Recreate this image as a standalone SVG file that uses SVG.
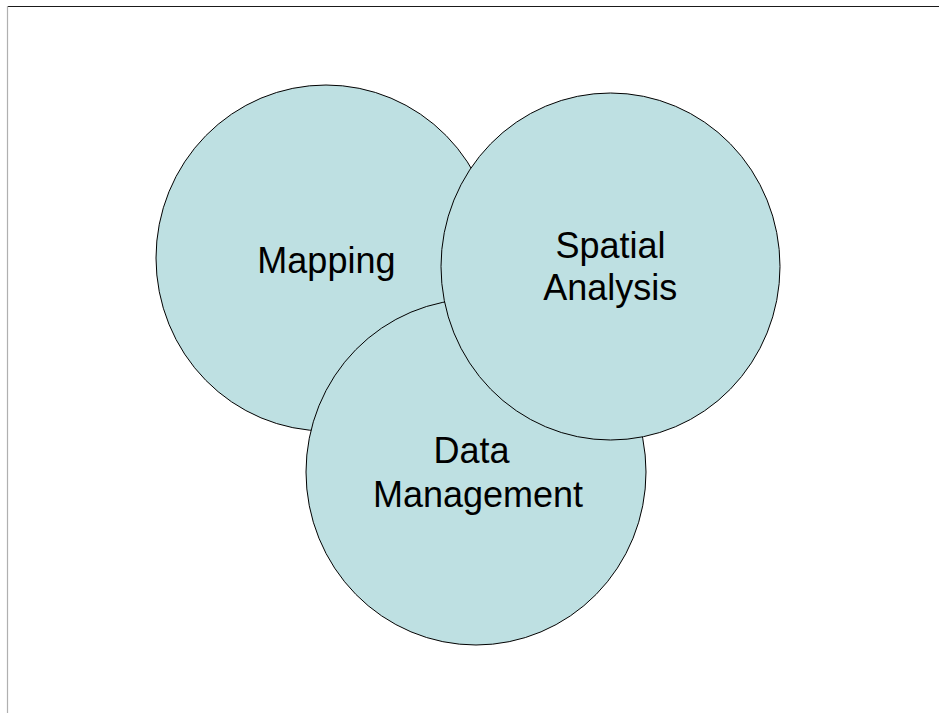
<svg xmlns="http://www.w3.org/2000/svg" width="939" height="713" viewBox="0 0 939 713">
<style>
.c{fill:#BEE0E2;stroke:#000;stroke-width:1}
.t{font-family:"Liberation Sans",Arial,sans-serif;font-size:36px;fill:#000;text-anchor:middle}
</style>
<rect x="0" y="0" width="939" height="713" fill="#fff"/>
<g id="frame">
<line x1="7" y1="6.5" x2="939" y2="6.5" stroke="#1a1a1a" stroke-width="1.2"/>
<line x1="7.5" y1="6" x2="7.5" y2="713" stroke="#b0b0b0" stroke-width="1.2"/>
</g>
<g id="connectors"></g>
<g id="mapping">
<ellipse class="c" cx="326" cy="258" rx="170" ry="173"/>
<text class="t" x="326.4" y="273.3">Mapping</text>
</g>
<g id="data-management">
<ellipse class="c" cx="476" cy="472" rx="170" ry="173"/>
<text class="t" x="471.5" y="463.3">Data</text>
<text class="t" x="478" y="506.5">Management</text>
</g>
<g id="spatial-analysis">
<ellipse class="c" cx="610.5" cy="266.5" rx="169.5" ry="173.5"/>
<text class="t" x="610.5" y="258.3">Spatial</text>
<text class="t" x="610.3" y="299.5">Analysis</text>
</g>
</svg>
